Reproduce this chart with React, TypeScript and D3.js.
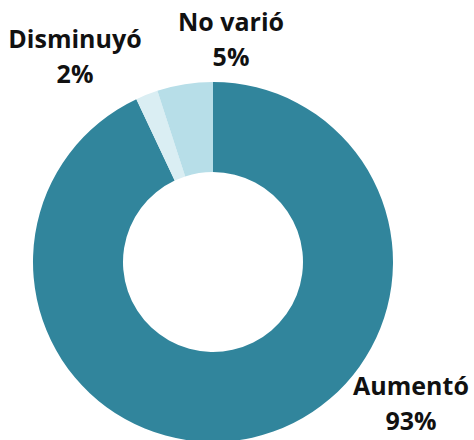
import { useEffect } from 'react'
import * as d3 from 'd3'

const CATEGORIES = ['Aumentó', 'Disminuyó', 'No varió']
const VALUES = [93, 2, 5]
const COLORS = ['#31859C', '#DAEEF3', '#B7DEE8']

// label anchor (x center, first baseline) in px, per category
const LABEL_POS: [number, number][] = [[411, 395], [75, 48], [231, 31]]

const W = 474
const H = 440
const CX = 213
const CY = 262
const R_OUT = 180
const R_IN = 90

export default function App() {
  useEffect(() => {
    document.body.style.margin = '0'
  }, [])

  const pie = d3.pie<number>().sort(null).value(d => d)
  const arcs = pie(VALUES)
  const arc = d3.arc<d3.PieArcDatum<number>>().innerRadius(R_IN).outerRadius(R_OUT)

  return (
    <svg width={W} height={H} style={{ display: 'block' }}>
      <g transform={`translate(${CX},${CY})`}>
        {arcs.map((a, i) => (
          <path key={CATEGORIES[i]} d={arc(a) || ''} fill={COLORS[i]} />
        ))}
      </g>
      {CATEGORIES.map((c, i) => (
        <text key={c} x={LABEL_POS[i][0]} y={LABEL_POS[i][1]} textAnchor="middle"
          fontFamily="'Open Sans', sans-serif" fontWeight={700} fontSize={25} fill="#111">
          <tspan x={LABEL_POS[i][0]}>{c}</tspan>
          <tspan x={LABEL_POS[i][0]} dy={35}>{VALUES[i]}%</tspan>
        </text>
      ))}
    </svg>
  )
}
